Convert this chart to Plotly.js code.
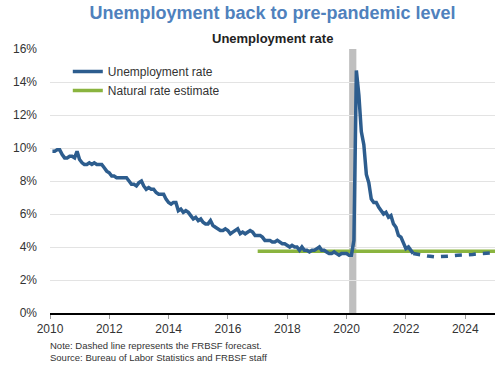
<!DOCTYPE html>
<html>
<head>
<meta charset="utf-8">
<script src="https://cdn.plot.ly/plotly-3.0.1.min.js"></script>
<style>
html,body{margin:0;padding:0;background:#fff;}
#chart{width:500px;height:365px;}
</style>
</head>
<body>
<div id="chart"></div>
<script>
// Monthly unemployment rate, Jan 2010 - Mar 2022 (%)
const unempStart = [2010, 1];
const unempRate = [
  9.8, 9.8, 9.9, 9.9, 9.6, 9.4, 9.4, 9.5, 9.5, 9.4, 9.8, 9.3,
  9.1, 9.0, 9.0, 9.1, 9.0, 9.1, 9.0, 9.0, 9.0, 8.8, 8.6, 8.5,
  8.3, 8.3, 8.2, 8.2, 8.2, 8.2, 8.2, 8.0, 7.8, 7.8, 7.7, 7.9,
  8.0, 7.7, 7.5, 7.6, 7.5, 7.5, 7.3, 7.2, 7.2, 7.2, 6.9, 6.7,
  6.6, 6.7, 6.7, 6.2, 6.3, 6.1, 6.2, 6.1, 5.9, 5.7, 5.8, 5.6,
  5.7, 5.5, 5.4, 5.4, 5.6, 5.3, 5.2, 5.1, 5.0, 5.0, 5.1, 5.0,
  4.8, 4.9, 5.0, 5.1, 4.8, 4.9, 4.8, 4.9, 5.0, 4.9, 4.7, 4.7,
  4.7, 4.6, 4.4, 4.4, 4.4, 4.3, 4.3, 4.4, 4.3, 4.2, 4.2, 4.1,
  4.0, 4.1, 4.0, 4.0, 3.8, 4.0, 3.8, 3.8, 3.7, 3.8, 3.8, 3.9,
  4.0, 3.8, 3.8, 3.7, 3.6, 3.6, 3.7, 3.6, 3.5, 3.6, 3.6, 3.6,
  3.5, 3.5, 4.4, 14.7, 13.2, 11.0, 10.2, 8.4, 7.9, 6.9, 6.7, 6.7,
  6.4, 6.2, 6.0, 6.1, 5.8, 5.9, 5.4, 5.2, 4.7, 4.6, 4.2, 3.9,
  4.0, 3.8, 3.6
];

// FRBSF forecast (dashed), quarterly
const forecastDates = ['2022-03-31','2022-06-30','2022-09-30','2022-12-31','2023-03-31','2023-06-30','2023-09-30','2023-12-31','2024-03-31','2024-06-30','2024-09-30','2024-12-31'];
const forecastRate  = [3.6, 3.5, 3.45, 3.4, 3.4, 3.45, 3.5, 3.5, 3.55, 3.6, 3.65, 3.65];

// Natural rate estimate
const naturalDates = ['2017-01-01', '2025-01-01'];
const naturalRate  = [3.75, 3.75];

// Recession shading
const recessionStart = '2020-02-01';
const recessionEnd   = '2020-04-30';

const yTickVals = [0, 2, 4, 6, 8, 10, 12, 14, 16];
const yTickText = ['0%', '2%', '4%', '6%', '8%', '10%', '12%', '14%', '16%'];
const xTickVals = ['2010-01-01','2012-01-01','2014-01-01','2016-01-01','2018-01-01','2020-01-01','2022-01-01','2024-01-01'];
const xTickText = ['2010','2012','2014','2016','2018','2020','2022','2024'];

// month-end dates for the monthly series
function monthEnd(y, m) {
  const d = new Date(Date.UTC(y, m, 0));
  return d.toISOString().slice(0, 10);
}
const unempDates = unempRate.map((_, i) => {
  const total = (unempStart[0] * 12 + unempStart[1] - 1) + i;
  const y = Math.floor(total / 12), m = total % 12 + 1;
  return monthEnd(y, m);
});

const blue = '#2d5d8e';
const green = '#8ab43f';

const data = [
  {
    x: naturalDates, y: naturalRate, type: 'scatter', mode: 'lines',
    name: 'Natural rate estimate', legendrank: 2,
    line: {color: green, width: 3.5}
  },
  {
    x: unempDates, y: unempRate, type: 'scatter', mode: 'lines',
    name: 'Unemployment rate', legendrank: 1,
    line: {color: blue, width: 3.5}
  },
  {
    x: forecastDates, y: forecastRate, type: 'scatter', mode: 'lines',
    name: 'Forecast', showlegend: false,
    line: {color: blue, width: 3.5, dash: '7px,7px'}
  }
];

const layout = {
  width: 500, height: 365,
  margin: {l: 50, r: 5, t: 49, b: 52},
  paper_bgcolor: '#fff', plot_bgcolor: '#fff',
  font: {family: 'Liberation Sans, Arial, sans-serif', size: 12, color: '#333'},
  title: {
    text: '<b>Unemployment back to pre-pandemic level</b>',
    font: {size: 18, color: '#4f81bd'},
    x: 0.545, xanchor: 'center', y: 0.965, yanchor: 'middle'
  },
  showlegend: true,
  legend: {
    x: 0.04, xanchor: 'left', y: 0.97, yanchor: 'top',
    bgcolor: 'rgba(0,0,0,0)', font: {size: 12, color: '#333'},
    tracegroupgap: 0, itemwidth: 30
  },
  xaxis: {
    type: 'date', range: ['2010-01-01', '2025-01-01'],
    tickvals: xTickVals, ticktext: xTickText,
    showgrid: false, zeroline: false,
    showline: true, linecolor: '#000', linewidth: 1.5,
    ticks: 'outside', ticklen: 4, tickcolor: '#999', tickwidth: 1,
    tickfont: {size: 12, color: '#333'}
  },
  yaxis: {
    range: [0, 16], tickvals: yTickVals, ticktext: yTickText,
    showgrid: true, gridcolor: '#e3e3e3', gridwidth: 1,
    zeroline: false, showline: false, ticks: '',
    ticklabelstandoff: 12,
    tickfont: {size: 12, color: '#333'}
  },
  shapes: [{
    type: 'rect', xref: 'x', yref: 'y', layer: 'below',
    x0: recessionStart, x1: recessionEnd, y0: 0, y1: 16,
    fillcolor: '#bfbfbf', line: {width: 0}
  }],
  annotations: [
    {
      text: '<b>Unemployment rate</b>', xref: 'paper', yref: 'paper',
      x: 0.5, y: 1.0, xanchor: 'center', yanchor: 'bottom', yshift: 1,
      showarrow: false, font: {size: 13, color: '#222'}
    },
    {
      text: 'Note: Dashed line represents the FRBSF forecast.<br>Source: Bureau of Labor Statistics and FRBSF staff',
      xref: 'paper', yref: 'paper', x: 0, y: 0, xanchor: 'left', yanchor: 'top',
      yshift: -25, xshift: -2, align: 'left', showarrow: false,
      font: {size: 9.5, color: '#333'}
    }
  ]
};

Plotly.newPlot('chart', data, layout, {displayModeBar: false, staticPlot: true});
</script>
</body>
</html>
